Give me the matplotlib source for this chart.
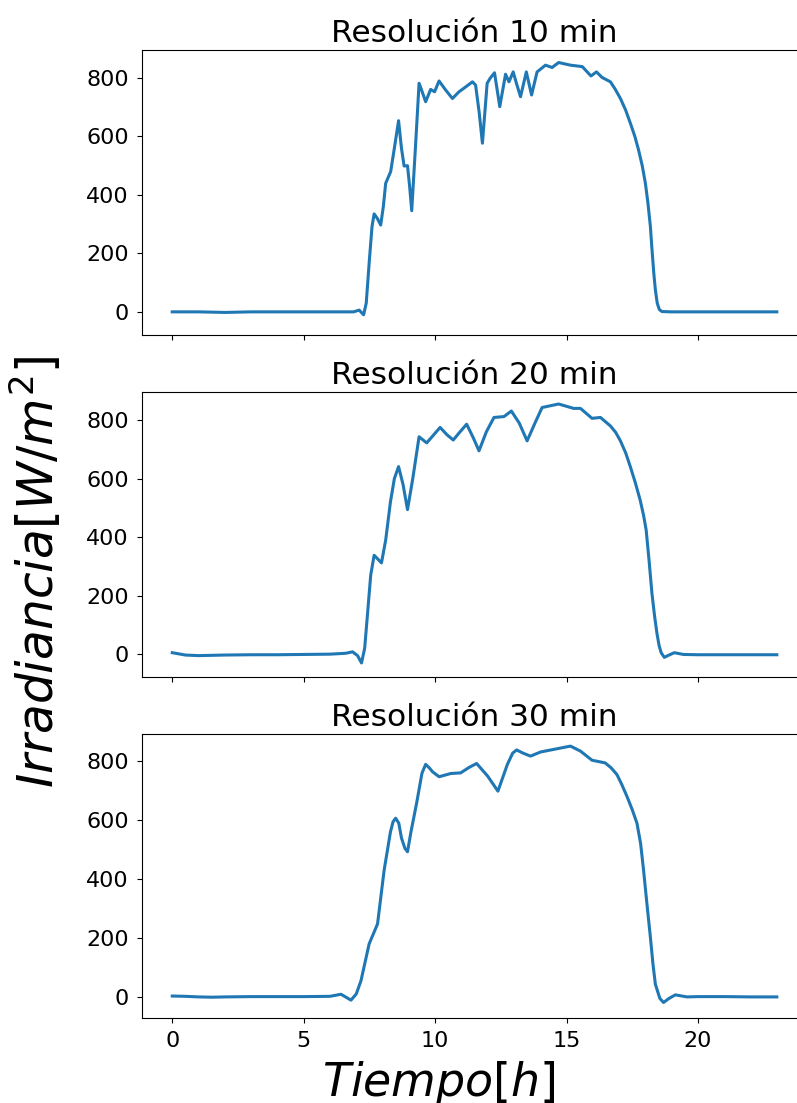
import matplotlib.pyplot as plt

# Irradiance curves (hours, W/m^2)
t_10 = [0, 1, 2, 3, 4, 5, 6, 6.9, 7.11, 7.28, 7.38, 7.5, 7.6, 7.68, 7.8, 7.93,
        8.03, 8.12, 8.31, 8.45, 8.61, 8.72, 8.82, 8.95, 9.03, 9.11, 9.25, 9.39,
        9.52, 9.64, 9.83, 9.98, 10.15, 10.4, 10.66, 10.91, 11.17, 11.42, 11.54,
        11.68, 11.8, 11.98, 12.1, 12.26, 12.46, 12.68, 12.81, 12.97, 13.1, 13.25,
        13.47, 13.67, 13.88, 14.2, 14.45, 14.7, 15.15, 15.6, 15.93, 16.14, 16.35,
        16.67, 16.85, 17.05, 17.25, 17.43, 17.6, 17.74, 17.88, 18.0, 18.1, 18.19,
        18.25, 18.32, 18.38, 18.45, 18.53, 18.63, 19, 20, 21, 22, 23]
g_10 = [0, 0, -2, 0, 0, 0, 0, 0, 6, -10, 30, 178, 292, 335, 320, 297,
        360, 440, 480, 560, 654, 560, 499, 500, 430, 346, 560, 782,
        750, 719, 761, 753, 790, 759, 730, 753, 770, 787, 776,
        680, 577, 782, 800, 818, 702, 813, 787, 821, 780, 736,
        821, 742, 821, 844, 836, 853, 844, 839, 807, 821, 802,
        787, 762, 730, 690, 645, 600, 554, 500, 440, 370, 292,
        215, 132, 75, 30, 8, 1, 0, 0, 0, 0, 0]

t_20 = [0, 0.5, 1, 2, 3, 4, 5, 6, 6.6, 6.86, 7.05, 7.2, 7.32, 7.43, 7.55, 7.68,
        7.82, 7.96, 8.12, 8.3, 8.45, 8.61, 8.78, 8.95, 9.15, 9.39, 9.68, 9.95,
        10.19, 10.45, 10.69, 10.95, 11.2, 11.45, 11.67, 11.95, 12.24, 12.62, 12.9,
        13.2, 13.5, 13.8, 14.07, 14.7, 15.27, 15.53, 15.97, 16.29, 16.67, 16.87,
        17.05, 17.25, 17.43, 17.62, 17.8, 17.93, 18.03, 18.14, 18.25, 18.35, 18.44,
        18.52, 18.6, 18.72, 18.9, 19.1, 19.45, 20, 21, 22, 23]
g_20 = [5, -3, -5, -3, -2, -2, -1, 0, 3, 8, -5, -30, 20, 139, 270, 338,
        325, 312, 390, 520, 600, 641, 580, 494, 600, 743, 722, 750,
        775, 750, 732, 760, 786, 740, 695, 760, 809, 812, 831,
        790, 729, 790, 843, 855, 840, 840, 806, 809, 780, 758,
        729, 688, 640, 585, 527, 475, 424, 320, 207, 130, 71,
        30, 5, -11, -3, 5, -1, -2, -2, -2, -2]

t_30 = [0, 0.5, 1, 1.5, 2, 3, 4, 5, 6, 6.42, 6.8, 7.0, 7.18, 7.49, 7.81, 8.06,
        8.3, 8.4, 8.5, 8.62, 8.72, 8.85, 8.95, 9.08, 9.3, 9.5, 9.64, 9.78, 9.9,
        10.15, 10.6, 10.97, 11.3, 11.58, 12.0, 12.39, 12.75, 12.95, 13.1, 13.35,
        13.63, 14.01, 14.52, 15.15, 15.53, 15.97, 16.47, 16.7, 16.92, 17.1, 17.3,
        17.5, 17.68, 17.82, 17.93, 18.06, 18.19, 18.29, 18.38, 18.55, 18.69, 18.9,
        19.14, 19.58, 20, 21, 22, 23]
g_30 = [3, 2, 0, -1, 0, 1, 1, 1, 2, 9, -11, 10, 55, 180, 248, 430,
        560, 595, 607, 590, 540, 505, 493, 560, 660, 760, 790, 778, 765,
        748, 759, 761, 780, 793, 750, 699, 790, 828, 839, 828,
        818, 832, 841, 852, 835, 804, 795, 778, 755, 722, 681,
        636, 590, 520, 431, 315, 203, 110, 43, -5, -19, -5,
        7, 0, 1, 1, 0, 0]

titles = ["Resolución 10 min", "Resolución 20 min", "Resolución 30 min"]
series = [(t_10, g_10), (t_20, g_20), (t_30, g_30)]
ylims = [(-78, 896), (-77, 896), (-70, 893)]

fig = plt.figure(figsize=(7.97, 11.03), dpi=100)
boxes = [[0.1782, 0.6966, 0.8344, 0.2581],
         [0.1782, 0.3865, 0.8344, 0.2581],
         [0.1782, 0.0775, 0.8344, 0.2570]]

axes = []
for i, (t, g) in enumerate(series):
    ax = fig.add_axes(boxes[i], sharex=axes[0] if axes else None)
    ax.plot(t, g, color='tab:blue', linewidth=2.2)
    ax.set_title(titles[i], fontsize=22.5)
    ax.set_ylim(*ylims[i])
    ax.set_yticks([0, 200, 400, 600, 800])
    ax.tick_params(labelsize=16, pad=6)
    if i < 2:
        ax.tick_params(labelbottom=False)
    axes.append(ax)

axes[0].set_xlim(-1.15, 24.15)
axes[0].set_xticks([0, 5, 10, 15, 20])

# big shared axis labels
fig.text(0.0452, 0.4814, r"$Irradiancia [W/m^2]$", rotation=90,
         ha='center', va='center', fontsize=35)
fig.text(0.5508, 0.0064, r"$Tiempo [h]$", ha='center', va='baseline',
         fontsize=33)

fig.savefig("out.png", dpi=100)
